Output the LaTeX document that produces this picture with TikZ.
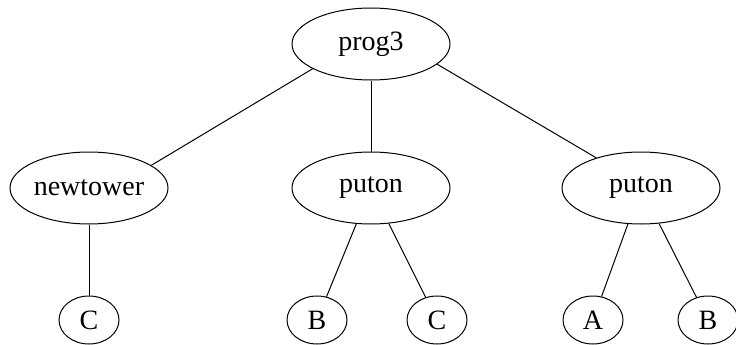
\documentclass[tikz,border=0pt]{standalone}
\usepackage{fontspec}
\setmainfont{Liberation Serif}
\usetikzlibrary{shapes.geometric}

\tikzset{
    term/.style={
        draw,
        ellipse,
        inner sep=0pt,
        line width=1pt,
        font=\fontsize{28}{34}\selectfont
    },
    funct/.style={
        term,
        minimum width=158pt,
        minimum height=72pt
    },
    atom/.style={
        term,
        minimum width=60pt,
        minimum height=48pt
    },
    branch/.style={
        line width=1pt
    }
}

\begin{document}
\begin{tikzpicture}[x=1pt,y=-1pt]
    \useasboundingbox (0,0) rectangle (736,345);

    % Wurzel und Teilterme
    \path
        node[funct] at (371, 44) (prog3)    {prog3}
        node[funct] at ( 89,188) (newtower) {newtower}
        node[funct] at (371,188) (puton1)   {puton}
        node[funct] at (641,188) (puton2)   {puton};

    % Blaetter
    \path
        node[atom] at ( 89,320) (c1) {C}
        node[atom] at (317,320) (b1) {B}
        node[atom] at (437,320) (c2) {C}
        node[atom] at (593,320) (a2) {A}
        node[atom] at (708,320) (b2) {B};

    % Kanten der Wurzel
    \path[branch]
        (prog3.203) edge (newtower.20)
        (prog3)     edge (puton1)
        (prog3.343) edge (puton2.146);

    % Argumente der Teilterme
    \path[branch]
        (newtower) edge (c1)
        (puton1)   edge (b1)
                   edge (c2)
        (puton2)   edge (a2)
                   edge (b2);
\end{tikzpicture}
\end{document}
